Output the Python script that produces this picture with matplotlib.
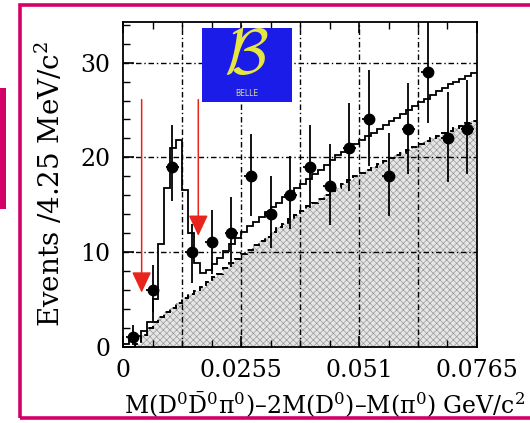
import numpy as np
import matplotlib
matplotlib.use("Agg")
import matplotlib.pyplot as plt
from matplotlib.patches import Rectangle
from matplotlib.ticker import MultipleLocator

plt.rcParams['font.family'] = ['DejaVu Serif']
plt.rcParams['mathtext.fontset'] = 'dejavuserif'
plt.rcParams['hatch.linewidth'] = 0.5

# ---------------- data ----------------
bin_width = 0.00425
counts = [1, 6, 19, 10, 11, 12, 18, 14, 16, 19, 17, 21, 24, 18, 23, 29, 22, 23]
err_low = [0.8, 2.4, 3.6, 3.3, 3.3, 3.6, 4.2, 3.6, 3.6, 4.4, 4.2, 4.6, 4.9, 4.2, 4.8, 5.4, 4.6, 4.8]
err_high = [1.3, 2.6, 4.4, 3.0, 3.4, 3.8, 4.5, 4.0, 4.1, 4.4, 4.4, 4.7, 5.2, 4.6, 4.9, 5.6, 4.9, 5.2]

fine_width = 0.001275
total_fit = [0.3, 0.7, 1.1, 1.6, 2.6, 5.0, 10.8, 16.8, 21.0, 21.8,
             16.5, 12.0, 8.8, 7.8, 8.1, 8.7, 9.4, 10.1, 10.8, 11.5,
             12.1, 12.7, 13.2, 13.7, 14.2, 14.7, 15.2, 15.8, 16.3, 16.8,
             17.2, 17.7, 18.2, 18.7, 19.2, 19.7, 20.2, 20.6, 21.0, 21.4,
             21.8, 22.2, 22.6, 23.0, 23.4, 23.8, 24.2, 24.6, 25.0, 25.4,
             25.8, 26.2, 26.6, 27.0, 27.3, 27.7, 28.0, 28.3, 28.6, 28.9]
background = [0.0, 0.0, 0.3, 1.2, 2.0, 2.6, 3.1, 3.6, 4.1, 4.6,
              5.1, 5.5, 5.9, 6.3, 6.8, 7.3, 7.7, 8.3, 8.8, 9.3,
              9.8, 10.2, 10.7, 11.2, 11.6, 12.1, 12.6, 13.0, 13.5, 13.9,
              14.3, 14.8, 15.2, 15.6, 16.0, 16.4, 16.8, 17.2, 17.6, 18.0,
              18.3, 18.7, 19.0, 19.3, 19.6, 19.9, 20.2, 20.5, 20.8, 21.1,
              21.4, 21.7, 22.0, 22.3, 22.6, 22.8, 23.1, 23.3, 23.6, 23.8]

arrow_x = [0.00403, 0.01627]
arrow_top = [26.1, 26.1]
arrow_tip = [5.7, 11.7]

xticks = [0, 0.0255, 0.051, 0.0765]
xtick_labels = ['0', '0.0255', '0.051', '0.0765']
yticks = [0, 10, 20, 30]

# ---------------- figure ----------------
W, H = 530, 423
fig = plt.figure(figsize=(W / 100, H / 100), dpi=100)
ax = fig.add_axes([123 / W, 1 - 346.5 / H, (477 - 123) / W, (346.5 - 22) / H])

x_centers = (np.arange(len(counts)) + 0.5) * bin_width
fine_edges = np.arange(len(total_fit) + 1) * fine_width

# background fill with hatch
ax.stairs(background, fine_edges, fill=True, facecolor='#e6e6e6',
          edgecolor='#9a9a9a', hatch='xxxxx', linewidth=0, zorder=1)
ax.stairs(background, fine_edges, baseline=None, color='k',
          linestyle=(0, (3.5, 2.2)), linewidth=1.4, zorder=3)
ax.stairs(total_fit, fine_edges, baseline=None, color='k',
          linewidth=1.3, zorder=3)

# grid
for gx in np.arange(1, 6) * 0.01275:
    ax.axvline(gx, color='k', linestyle=(0, (4, 2, 1, 2)), linewidth=1.0, zorder=2)
for gy in [10, 20, 30]:
    ax.axhline(gy, color='k', linestyle=(0, (4, 2, 1, 2)), linewidth=1.0, zorder=2)

# data
ax.errorbar(x_centers, counts, yerr=[err_low, err_high], xerr=0.0014,
            fmt='o', color='k', ms=7.5, elinewidth=1.3, capsize=0, zorder=5)

# arrows
red = '#e8251c'
for xa, yt, yb in zip(arrow_x, arrow_top, arrow_tip):
    ax.annotate('', xy=(xa, yb), xytext=(xa, yt),
                arrowprops=dict(arrowstyle='-|>,head_width=0.4,head_length=0.85',
                                color=red, lw=1.1, mutation_scale=15,
                                shrinkA=0, shrinkB=0), zorder=6)

# logo
ax.add_patch(Rectangle((0.222, 0.754), 0.2546, 0.226, transform=ax.transAxes,
                       facecolor='#1c1ce8', edgecolor='none', zorder=7))
ax.text(0.349, 0.895, r'$\mathcal{B}$', transform=ax.transAxes, ha='center',
        va='center', fontsize=46, color='#e6e640', math_fontfamily='cm', zorder=8)
ax.text(0.349, 0.78, 'BELLE', transform=ax.transAxes, ha='center', va='center',
        fontsize=5.5, color='#dcdc90', family='DejaVu Sans', zorder=8)

ax.set_xlim(0, 0.0765)
ax.set_ylim(0, 34.3)
ax.set_xticks(xticks)
ax.set_xticklabels(xtick_labels)
ax.set_yticks(yticks)
ax.xaxis.set_minor_locator(MultipleLocator(0.006375))
ax.yaxis.set_minor_locator(MultipleLocator(2))
ax.tick_params(axis='both', which='both', direction='in', labelsize=17)
ax.tick_params(axis='x', which='both', top=True, pad=9)
ax.tick_params(axis='y', which='both', pad=9)
ax.tick_params(which='major', length=8, width=1.2)
ax.tick_params(which='minor', length=5, width=1.0)
for s in ax.spines.values():
    s.set_linewidth(1.3)

fig.text(50 / W, 1 - 184 / H, r'Events /4.25 MeV/c$^2$', rotation=90,
         ha='center', va='center', fontsize=20)
fig.text(325 / W, 1 - 404 / H,
         r'M(D$^0\bar{\mathrm{D}}^0$π$^0$)–2M(D$^0$)–M(π$^0$) GeV/c$^2$',
         ha='center', va='center', fontsize=17)

# pink frame
pink = '#d4006a'
fig.add_artist(Rectangle((19.5 / W, 1 - 418 / H), (560 - 19.5) / W, (418 - 5) / H,
                         transform=fig.transFigure, fill=False, edgecolor=pink,
                         linewidth=2.6))
fig.add_artist(Rectangle((0, 1 - 209 / H), 5.5 / W, (209 - 88) / H,
                         transform=fig.transFigure, facecolor=pink,
                         edgecolor='none'))

fig.savefig('out.png', dpi=100)
